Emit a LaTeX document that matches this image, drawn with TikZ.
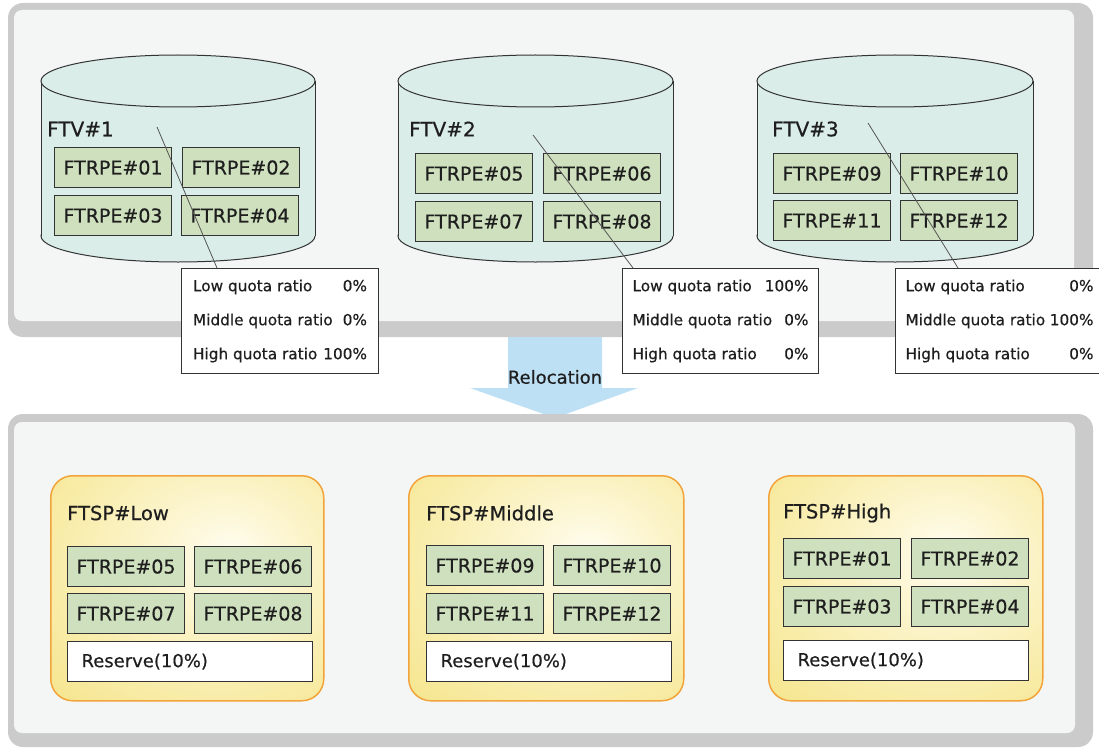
\documentclass[tikz,border=0pt]{standalone}
\usepackage{fontspec}
\setmainfont{DejaVu Sans}[FakeBold=0.5]
\usetikzlibrary{calc}
\definecolor{panelgray}{HTML}{CBCBCB}
\definecolor{panelfill}{HTML}{F4F6F5}
\definecolor{cylfill}{HTML}{DAEDE8}
\definecolor{rpegreen}{HTML}{CEE0BD}
\definecolor{edgedark}{HTML}{333333}
\definecolor{txt}{HTML}{1E1E1E}
\definecolor{poolorange}{HTML}{F2A43A}
\definecolor{poolyellow}{HTML}{F5E487}
\definecolor{poolcenter}{HTML}{FFFDF0}
\definecolor{arrowblue}{HTML}{BEE0F5}
\definecolor{leadergray}{HTML}{555555}
\pgfdeclareradialshading{poolshade}{\pgfpoint{8bp}{8bp}}{color(0bp)=(poolcenter); color(12bp)=(poolcenter!70!poolyellow); color(45bp)=(poolyellow); color(100bp)=(poolyellow)}
\newcommand\mycyl[2]{%
  \draw[cylline] (#1,236) ellipse [x radius=#2, y radius=26];
  \fill[cylfill] (#1-#2,81) rectangle (#1+#2,236);
  \draw[edgedark, line width=1pt] (#1-#2,81) -- (#1-#2,236);
  \draw[edgedark, line width=1pt] (#1+#2,81) -- (#1+#2,236);
  \draw[cylline] (#1,81) ellipse [x radius=#2, y radius=26];
}
\begin{document}
\begin{tikzpicture}[x=1pt,y=-1pt,
  rpe/.style={draw=edgedark, line width=1.1pt, fill=rpegreen, anchor=north west, minimum width=117pt, minimum height=40pt, inner sep=0pt, font=\fontsize{19}{19}\selectfont, text=txt},
  reserve/.style={draw=edgedark, line width=1.1pt, fill=white, anchor=north west, minimum height=40pt, inner xsep=14pt, inner ysep=0pt, text width=217pt, align=left, font=\fontsize{18}{18}\selectfont, text=txt},
  title/.style={anchor=west, inner sep=0pt, text=txt},
  callout/.style={draw=edgedark, line width=1pt, fill=white, anchor=north west, minimum height=105pt, inner sep=0pt, align=center, font=\fontsize{15.3}{34}\selectfont, text=txt},
  pool/.style={draw=poolorange, line width=1.5pt, rounded corners=22pt, shading=poolshade, anchor=north west, minimum width=273pt, minimum height=225pt, inner sep=0pt},
  leaderline/.style={draw=leadergray, line width=0.8pt},
  cylline/.style={draw=edgedark, line width=1pt, fill=cylfill}
]
\useasboundingbox (0,0) rectangle (1099,749);
\clip (0,0) rectangle (1099,749);
\fill[white] (0,0) rectangle (1099,749);

% top panel
\fill[panelgray, rounded corners=15pt] (8,3) rectangle (1093,337);
\fill[panelfill, rounded corners=8pt] (14,10) rectangle (1074,321);

% arrow
\fill[arrowblue] (508,337) -- (602,337) -- (602,388) -- (638,388) -- (555,418) -- (470,388) -- (508,388) -- cycle;
\node[title, anchor=center, font=\fontsize{18}{18}\selectfont] (reloc) at (555,377) {Relocation};

% bottom panel
\fill[panelgray, rounded corners=15pt] (8,414) rectangle (1093,747);
\fill[panelfill, rounded corners=8pt] (14,422) rectangle (1075,733);

% cylinders
\mycyl{178}{137}
\mycyl{535.5}{137.5}
\mycyl{895}{138}

\node[title, font=\fontsize{20}{20}\selectfont] (ftv1) at (47,129) {FTV\#1};
\node[title, font=\fontsize{20}{20}\selectfont] (ftv2) at (409,129) {FTV\#2};
\node[title, font=\fontsize{20}{20}\selectfont] (ftv3) at (772,129) {FTV\#3};

\node[rpe] (a01) at (54,147) {FTRPE\#01};
\node[rpe] (a02) at (182,147) {FTRPE\#02};
\node[rpe] (a03) at (54,195) {FTRPE\#03};
\node[rpe] (a04) at (181,195) {FTRPE\#04};

\node[rpe] (a05) at (415,153) {FTRPE\#05};
\node[rpe] (a06) at (543,153) {FTRPE\#06};
\node[rpe] (a07) at (415,201) {FTRPE\#07};
\node[rpe] (a08) at (543,201) {FTRPE\#08};

\node[rpe] (a09) at (773,153) {FTRPE\#09};
\node[rpe] (a10) at (900,153) {FTRPE\#10};
\node[rpe] (a11) at (773,200) {FTRPE\#11};
\node[rpe] (a12) at (900,200) {FTRPE\#12};

% callouts
\coordinate (p1) at (157,127);
\coordinate (p2) at (533,135);
\coordinate (p3) at (868,123);
\node[callout, minimum width=197pt] (c1) at (181,268) {%
  \hbox to 174pt{Low quota ratio\hfill 0\%}\\
  \hbox to 174pt{Middle quota ratio\hfill 0\%}\\
  \hbox to 174pt{High quota ratio\hfill 100\%}};
\node[callout, minimum width=196pt] (c2) at (622,268) {%
  \hbox to 176pt{Low quota ratio\hfill 100\%}\\
  \hbox to 176pt{Middle quota ratio\hfill 0\%}\\
  \hbox to 176pt{High quota ratio\hfill 0\%}};
\node[callout, minimum width=208pt] (c3) at (895,268) {%
  \hbox to 188pt{Low quota ratio\hfill 0\%}\\
  \hbox to 188pt{Middle quota ratio\hfill 100\%}\\
  \hbox to 188pt{High quota ratio\hfill 0\%}};
\draw[leaderline] (p1) -- ($(c1.north west)+(36,0)$);
\draw[leaderline] (p2) -- ($(c2.north west)+(11,0)$);
\draw[leaderline] (p3) -- ($(c3.north west)+(63,0)$);

% pools
\node[pool] (low) at (50,475) {};
\node[pool, minimum width=275pt] (mid) at (408,475) {};
\node[pool, minimum width=274pt] (high) at (768,475) {};
\node[title, font=\fontsize{19.5}{19.5}\selectfont] (lowt) at (67,513) {FTSP\#Low};
\node[title, font=\fontsize{19.5}{19.5}\selectfont] (midt) at (426,513) {FTSP\#Middle};
\node[title, font=\fontsize{19.5}{19.5}\selectfont] (hight) at (783,513) {FTSP\#High};

\node[rpe] (b05) at (67,546) {FTRPE\#05};
\node[rpe] (b06) at (194,546) {FTRPE\#06};
\node[rpe] (b07) at (67,593) {FTRPE\#07};
\node[rpe] (b08) at (194,593) {FTRPE\#08};
\node[reserve] (r1) at (67,641) {Reserve(10\%)};

\node[rpe] (b09) at (426,545) {FTRPE\#09};
\node[rpe] (b10) at (553,545) {FTRPE\#10};
\node[rpe] (b11) at (426,593) {FTRPE\#11};
\node[rpe] (b12) at (553,593) {FTRPE\#12};
\node[reserve] (r2) at (426,641) {Reserve(10\%)};

\node[rpe] (b01) at (783,538) {FTRPE\#01};
\node[rpe] (b02) at (911,538) {FTRPE\#02};
\node[rpe] (b03) at (783,586) {FTRPE\#03};
\node[rpe] (b04) at (911,586) {FTRPE\#04};
\node[reserve] (r3) at (783,640) {Reserve(10\%)};
\end{tikzpicture}
\end{document}
